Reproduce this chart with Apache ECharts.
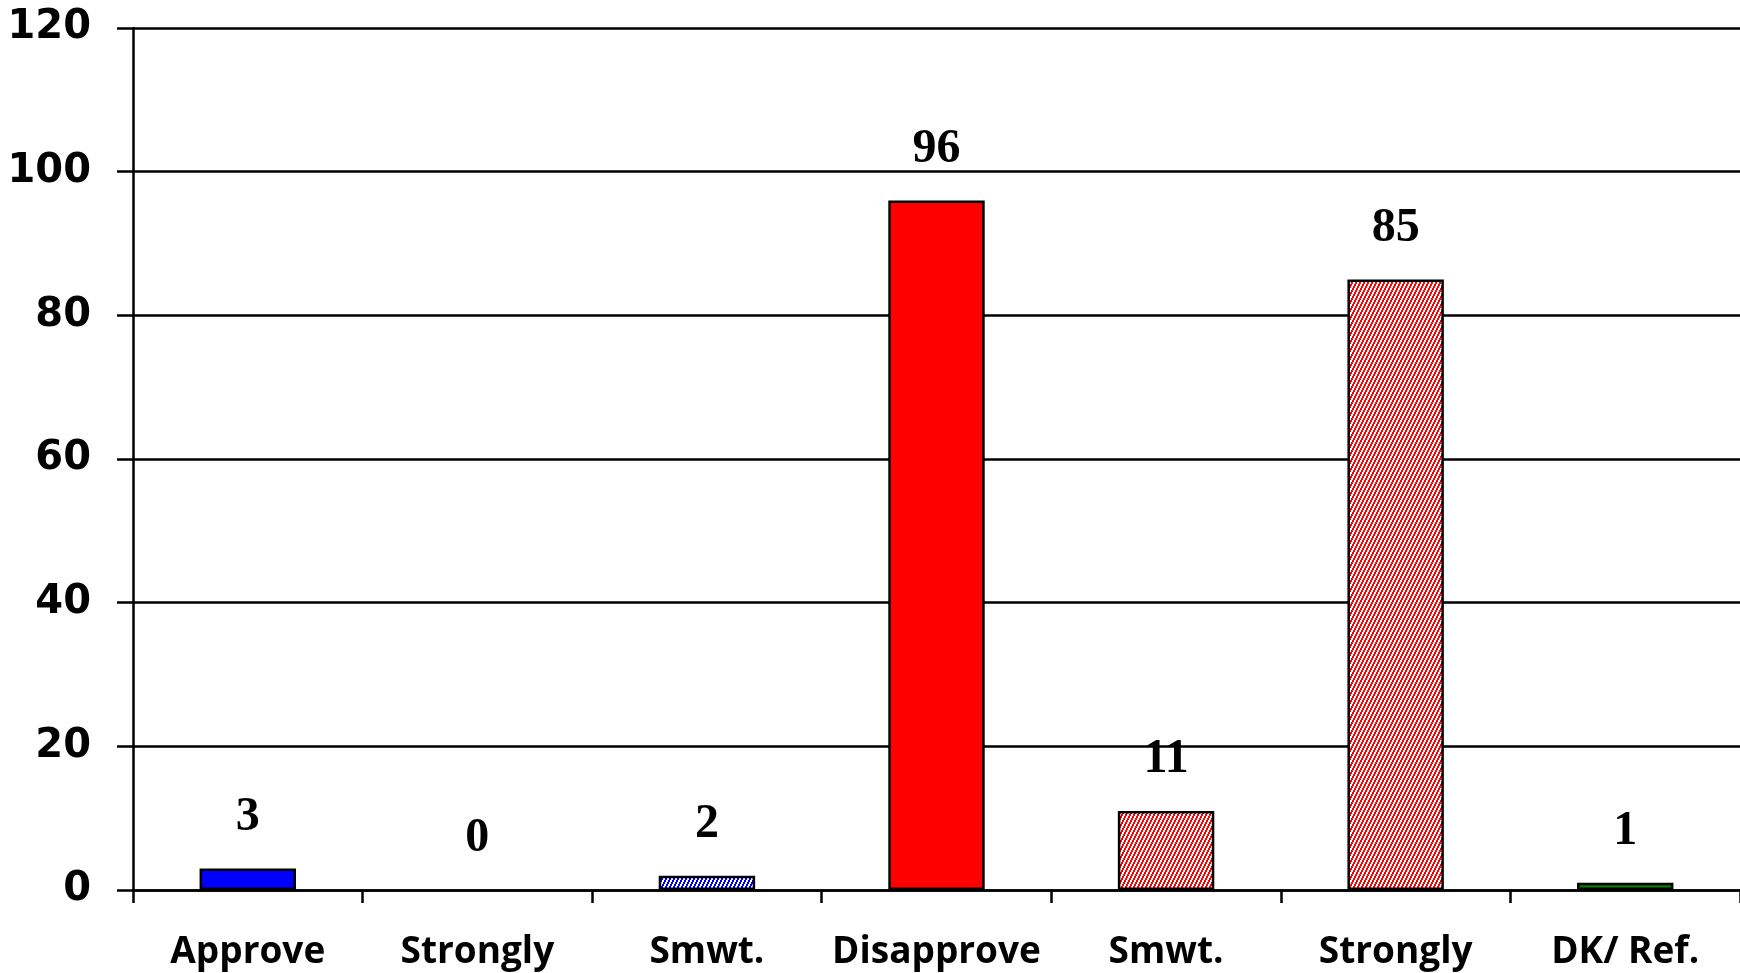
<!DOCTYPE html>
<html>
<head>
<meta charset="utf-8">
<script src="https://cdn.jsdelivr.net/npm/echarts@6/dist/echarts.min.js"></script>
<style>
html,body{margin:0;padding:0;background:#fff;}
#chart{width:1740px;height:973px;}
</style>
</head>
<body>
<div id="chart"></div>
<script>
const categories = ['Approve', 'Strongly', 'Smwt.', 'Disapprove', 'Smwt.', 'Strongly', 'DK/ Ref.'];
const values = [3, 0, 2, 96, 11, 85, 1];
const yTicks = [0, 20, 40, 60, 80, 100, 120];

function hatch(color) {
  const c = document.createElement('canvas');
  c.width = 4; c.height = 8;
  const ctx = c.getContext('2d');
  ctx.fillStyle = '#ffffff';
  ctx.fillRect(0, 0, 4, 8);
  ctx.fillStyle = color;
  for (let x = 0; x < 4; x++) {
    for (let y = 0; y < 8; y++) {
      if (((2 * x + y) % 8) < 4) ctx.fillRect(x, y, 1, 1);
    }
  }
  return { image: c, repeat: 'repeat' };
}

const fills = ['#0000FF', '#0000FF', hatch('#0000FF'), '#FF0000', hatch('#FF0000'), hatch('#FF0000'), '#008000'];

const chart = echarts.init(document.getElementById('chart'), null, { renderer: 'canvas' });
chart.setOption({
  animation: false,
  backgroundColor: '#ffffff',
  grid: { left: 133, right: -4, top: 28, bottom: 83, containLabel: false },
  xAxis: {
    type: 'category',
    data: categories,
    boundaryGap: true,
    axisLine: { show: true, lineStyle: { color: '#000', width: 2.5 } },
    axisTick: { show: true, length: 13, lineStyle: { color: '#000', width: 2.5 }, alignWithLabel: false },
    axisLabel: {
      interval: 0,
      margin: 44,
      color: '#000',
      fontFamily: 'Open Sans',
      fontWeight: 'bold',
      fontSize: 37
    },
    splitLine: { show: false }
  },
  yAxis: {
    type: 'value',
    min: yTicks[0],
    max: yTicks[yTicks.length - 1],
    interval: 20,
    axisLine: { show: true, lineStyle: { color: '#000', width: 2.5 } },
    axisTick: { show: true, length: 16, lineStyle: { color: '#000', width: 2.5 } },
    axisLabel: {
      margin: 42,
      color: '#000',
      fontFamily: 'DejaVu Sans',
      fontWeight: 'bold',
      fontSize: 40,
      padding: [8, 0, 0, 0]
    },
    splitLine: { show: true, lineStyle: { color: '#000', width: 2.5 } }
  },
  series: [{
    type: 'bar',
    barWidth: '42%',
    data: values.map((v, i) => ({
      value: v,
      itemStyle: { color: fills[i], borderColor: '#000', borderWidth: v === 0 ? 0 : 2.5 }
    })),
    label: {
      show: true,
      position: 'top',
      distance: 27,
      color: '#000',
      fontFamily: 'Liberation Serif',
      fontWeight: 'bold',
      fontSize: 48
    }
  }]
});
</script>
</body>
</html>
